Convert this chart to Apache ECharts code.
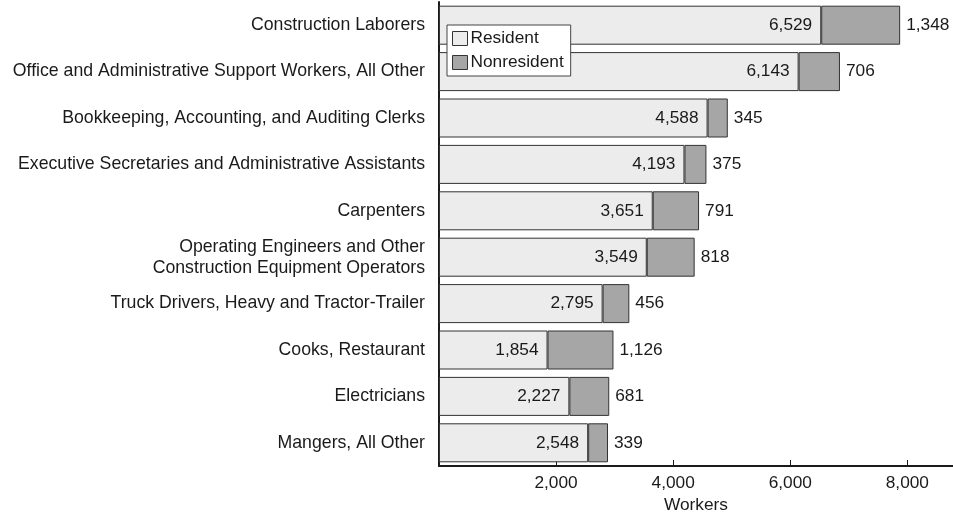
<!DOCTYPE html>
<html>
<head>
<meta charset="utf-8">
<script src="https://cdn.jsdelivr.net/npm/echarts@6/dist/echarts.min.js"></script>
<style>
    html, body { margin: 0; padding: 0; background: #fff; }
    #chart { width: 953px; height: 516px; }
</style>
</head>
<body>
<div id="chart"></div>
<script>
let categories = [
    'Construction Laborers',
    'Office and Administrative Support Workers, All Other',
    'Bookkeeping, Accounting, and Auditing Clerks',
    'Executive Secretaries and Administrative Assistants',
    'Carpenters',
    'Operating Engineers and Other\nConstruction Equipment Operators',
    'Truck Drivers, Heavy and Tractor-Trailer',
    'Cooks, Restaurant',
    'Electricians',
    'Mangers, All Other'
];
let resident = [6529, 6143, 4588, 4193, 3651, 3549, 2795, 1854, 2227, 2548];
let nonresident = [1348, 706, 345, 375, 791, 818, 456, 1126, 681, 339];
let xTicks = [2000, 4000, 6000, 8000];

let fmt = function (v) {
    return v.toLocaleString('en-US');
};

let myChart = echarts.init(document.getElementById('chart'));
let font = 'Liberation Sans, Arial, sans-serif';
let fs = 17.3;

let options = {
    animation: false,
    textStyle: { fontFamily: font },
    grid: { left: 439, right: 0, top: 2, bottom: 50, containLabel: false, outerBoundsMode: 'none' },
    legend: {
        left: 447,
        top: 25,
        orient: 'vertical',
        backgroundColor: '#fff',
        borderColor: '#444',
        borderWidth: 1,
        borderRadius: 0,
        padding: [5, 7, 5, 5],
        itemGap: 7,
        itemWidth: 15,
        itemHeight: 14,
        icon: 'rect',
        itemStyle: { borderColor: '#333', borderWidth: 1 },
        textStyle: { fontSize: fs, color: '#1a1a1a', fontFamily: font, padding: [0, 0, 0, -2] },
        data: ['Resident', 'Nonresident']
    },
    xAxis: {
        type: 'value',
        min: 0,
        max: 8780,
        interval: 2000,
        name: 'Workers',
        nameLocation: 'middle',
        nameGap: 31,
        nameTextStyle: { fontSize: fs, color: '#1a1a1a', fontFamily: font },
        axisLine: { show: true, lineStyle: { color: '#1a1a1a', width: 2 } },
        axisTick: { show: true, inside: true, length: 6, lineStyle: { color: '#1a1a1a' } },
        splitLine: { show: false },
        axisLabel: {
            fontSize: fs,
            color: '#1a1a1a',
            margin: 9,
            showMinLabel: false,
            showMaxLabel: false,
            formatter: function (v) {
                return xTicks.indexOf(v) >= 0 ? fmt(v) : '';
            }
        }
    },
    yAxis: {
        type: 'category',
        inverse: true,
        data: categories,
        axisLine: { show: true, lineStyle: { color: '#1a1a1a', width: 2 } },
        axisTick: { show: false },
        axisLabel: { fontSize: 17.7, color: '#1a1a1a', margin: 14, align: 'right', lineHeight: 21 }
    },
    series: [
        {
            name: 'Resident',
            type: 'bar',
            stack: 'w',
            barWidth: 39,
            data: resident,
            itemStyle: { color: '#ececec', borderColor: '#333', borderWidth: 1 },
            label: {
                show: true,
                position: 'insideRight',
                distance: 9,
                fontSize: fs,
                color: '#1a1a1a',
                formatter: function (p) { return fmt(p.value); }
            }
        },
        {
            name: 'Nonresident',
            type: 'bar',
            stack: 'w',
            barWidth: 39,
            data: nonresident,
            itemStyle: { color: '#a6a6a6', borderColor: '#333', borderWidth: 1 },
            label: {
                show: true,
                position: 'right',
                distance: 6,
                fontSize: fs,
                color: '#1a1a1a',
                formatter: function (p) { return fmt(p.value); }
            }
        }
    ]
};
myChart.setOption(options);
</script>
</body>
</html>
